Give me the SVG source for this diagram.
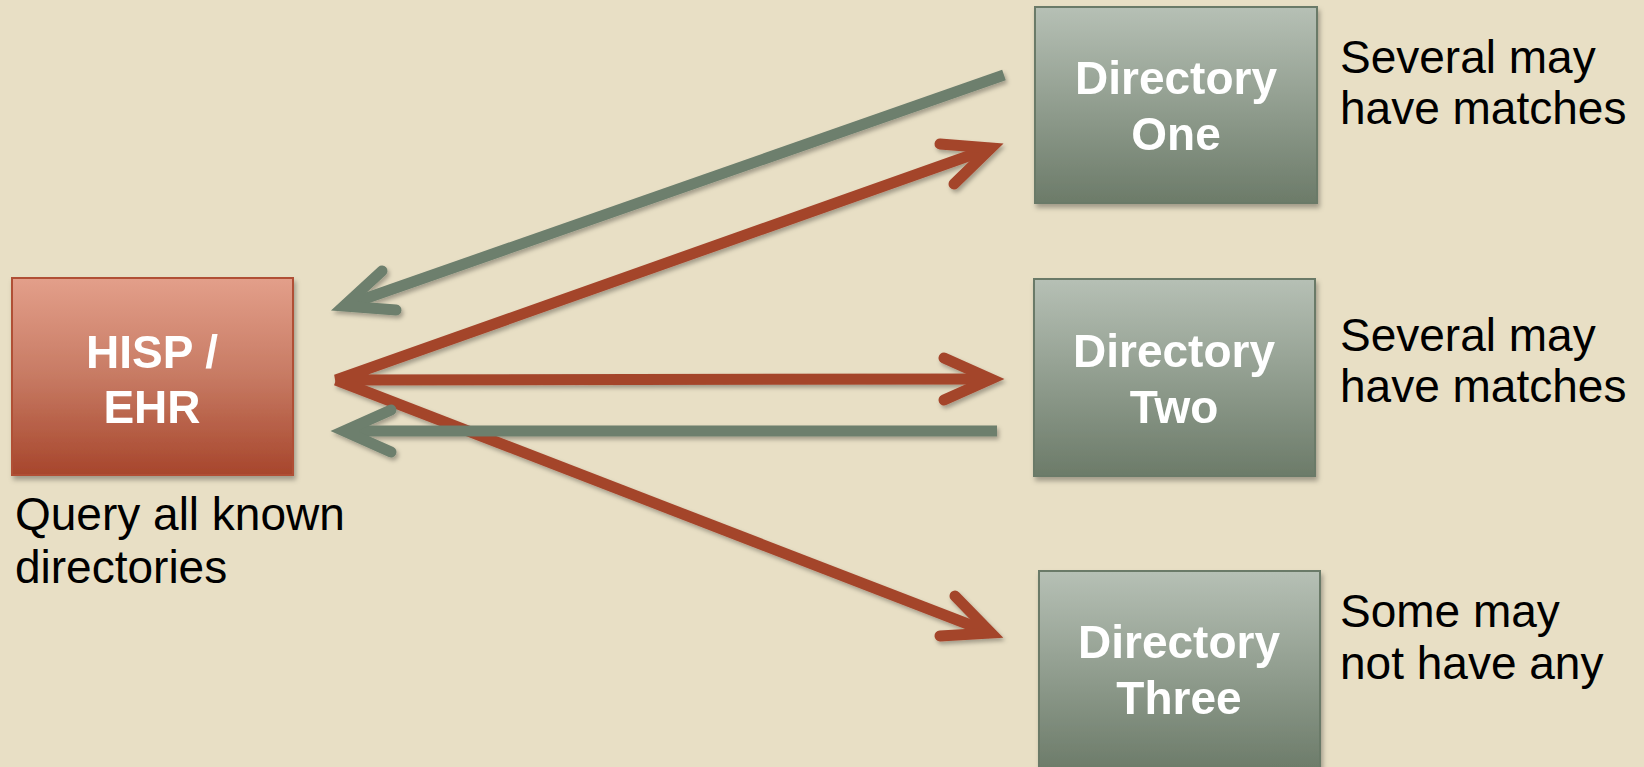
<svg xmlns="http://www.w3.org/2000/svg" width="1644" height="767" viewBox="0 0 1644 767">
<defs>
<linearGradient id="gRed" x1="0" y1="0" x2="0" y2="1">
<stop offset="0" stop-color="#E39F8A"/>
<stop offset="0.5" stop-color="#C77A63"/>
<stop offset="1" stop-color="#A7462C"/>
</linearGradient>
<linearGradient id="gGreen" x1="0" y1="0" x2="0" y2="1">
<stop offset="0" stop-color="#B6C0B5"/>
<stop offset="1" stop-color="#6C7B69"/>
</linearGradient>
<filter id="sh" x="-10%" y="-10%" width="120%" height="130%">
<feDropShadow dx="2" dy="4" stdDeviation="2.5" flood-color="#000" flood-opacity="0.3"/>
</filter>
<filter id="shl" x="-5%" y="-20%" width="110%" height="140%">
<feDropShadow dx="2" dy="3" stdDeviation="2" flood-color="#000" flood-opacity="0.3"/>
</filter>
</defs>
<style>
.bg{fill:#E8DFC5}
.hisp{fill:url(#gRed);stroke:#B04F36;stroke-width:2}
.dir{fill:url(#gGreen);stroke:#6B7A68;stroke-width:2}
.wt{font-family:"Liberation Sans",Arial,sans-serif;font-weight:bold;font-size:46px;fill:#FFFFFF;text-anchor:middle}
.bt{font-family:"Liberation Sans",Arial,sans-serif;font-size:46px;fill:#000000}
.red{fill:none;stroke:#A4452C;stroke-width:11;stroke-linejoin:miter;stroke-linecap:butt}
.grn{fill:none;stroke:#6D7F6D;stroke-width:11;stroke-linejoin:miter;stroke-linecap:butt}
.head{stroke-linecap:round;stroke-miterlimit:10}
</style>
<rect class="bg" x="0" y="0" width="1644" height="767"/>

<g id="hisp" filter="url(#sh)">
<rect class="hisp" x="12" y="278" width="281" height="197"/>
<text class="wt" x="152" y="368">HISP /</text>
<text class="wt" x="152" y="423">EHR</text>
</g>
<g id="hisp-label">
<text class="bt" x="15" y="530">Query all known</text>
<text class="bt" x="15" y="583">directories</text>
</g>

<g id="dir-one" filter="url(#sh)">
<rect class="dir" x="1035" y="7" width="282" height="196"/>
<text class="wt" x="1176" y="94">Directory</text>
<text class="wt" x="1176" y="150">One</text>
</g>
<g id="dir-one-label">
<text class="bt" x="1340" y="73">Several may</text>
<text class="bt" x="1340" y="124">have matches</text>
</g>

<g id="dir-two" filter="url(#sh)">
<rect class="dir" x="1034" y="279" width="281" height="197"/>
<text class="wt" x="1174" y="367">Directory</text>
<text class="wt" x="1174" y="423">Two</text>
</g>
<g id="dir-two-label">
<text class="bt" x="1340" y="351">Several may</text>
<text class="bt" x="1340" y="402">have matches</text>
</g>

<g id="dir-three" filter="url(#sh)">
<rect class="dir" x="1039" y="571" width="281" height="200"/>
<text class="wt" x="1179" y="658">Directory</text>
<text class="wt" x="1179" y="714">Three</text>
</g>
<g id="dir-three-label">
<text class="bt" x="1340" y="627">Some may</text>
<text class="bt" x="1340" y="679">not have any</text>
</g>

<g id="connectors" filter="url(#shl)">
<path class="red" d="M991,148 L336,380 L991,379"/>
<path class="red" d="M336,380 L991,633"/>
<path class="red head" d="M954,184 L991,148 L940,144"/>
<path class="red head" d="M944,358 L991,379 L944,400"/>
<path class="red head" d="M955,596 L991,633 L940,636"/>
<path class="grn" d="M1004,75 L344,306"/>
<path class="grn head" d="M382,271 L344,306 L396,310"/>
<path class="grn" d="M997,431 L344,431"/>
<path class="grn head" d="M391,410 L344,431 L391,452"/>
</g>
</svg>
